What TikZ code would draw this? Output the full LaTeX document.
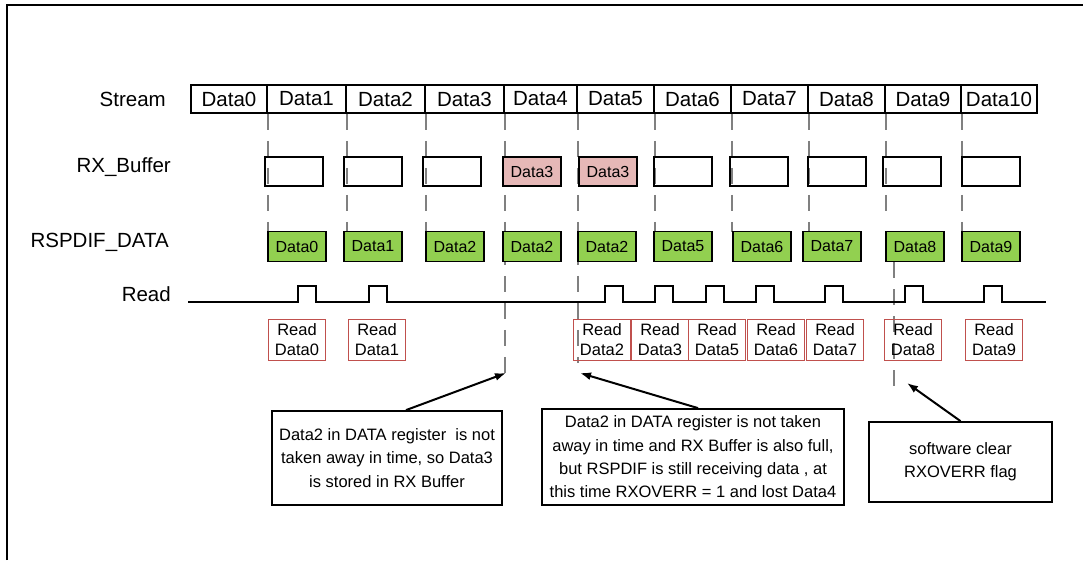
\documentclass[tikz,border=0pt]{standalone}
\usepackage{fontspec}
\setmainfont{Liberation Sans}
\definecolor{BufPink}{RGB}{230,184,183}
\definecolor{RegGreen}{RGB}{146,208,80}
\definecolor{ReadRed}{RGB}{192,80,77}
\definecolor{TickGray}{RGB}{128,128,128}
\usetikzlibrary{arrows.meta, positioning, calc}

\begin{document}
\begin{tikzpicture}[x=1pt, y=-1pt,
	cell/.style={draw, line width=1.8pt, inner sep=0pt, minimum height=28pt, font=\fontsize{20.5}{24}\selectfont},
	buf/.style={draw, line width=1.8pt, inner sep=0pt, minimum width=58pt, minimum height=29pt, font=\fontsize{16}{19}\selectfont},
	full/.style={buf, fill=BufPink},
	reg/.style={buf, fill=RegGreen, minimum height=30pt},
	rdbox/.style={draw=ReadRed, line width=1.8pt, inner sep=0pt, minimum width=57pt, minimum height=41pt, align=center, font=\fontsize{16.5}{20}\selectfont},
	note/.style={draw, line width=1.8pt, inner sep=2pt, align=center, font=\fontsize{16.5}{23.3}\selectfont},
	lbl/.style={anchor=base east, inner sep=0pt, font=\fontsize{20.5}{24}\selectfont},
	tick/.style={TickGray, line width=1.8pt, dash pattern=on 16pt off 11pt},
	callout/.style={-{Latex[length=11pt, width=8pt]}, line width=2pt}]
	\useasboundingbox (0,0) rectangle (1083,560);
	\draw[line width=2pt] (7,560) -- (7,5) -- (1083,5);

	% row labels
	\node[lbl] (lstream) at (166,106) {Stream};
	\node[lbl] (lrx) at (171,172) {RX\_Buffer};
	\node[lbl] (lrd) at (169,247) {RSPDIF\_DATA};
	\node[lbl] (lread) at (171,301) {Read};

	% stream cells
	\foreach \a/\b [count=\i from 0] in {191/267, 267/346, 346/425, 425/504, 504/577,
		577/654, 654/731, 731/808, 808/885, 885/961, 961/1037}{
		\node[cell, minimum width={\b-\a}] (s\i) at ({(\a+\b)/2},99) {Data\i};
	}

	% dashed time marks
	\foreach \i/\e in {0/232, 1/232, 2/232, 3/373, 4/363, 5/232, 6/232, 7/232, 8/217, 9/232}{
		\coordinate (t\i) at (s\i.south east |- 0,\e);
		\draw[tick] (s\i.south east) -- (t\i);
	}

	% RX buffer
	\foreach \x/\s/\t [count=\i] in {265/buf/{}, 344/buf/{}, 423/buf/{}, 503/full/Data3, 579/full/Data3,
		654/buf/{}, 730/buf/{}, 808/buf/{}, 883/buf/{}, 962/buf/{}}{
		\node[\s] (rx\i) at (\x+29,171.5) {\t};
	}

	% DATA register
	\foreach \x/\t [count=\i] in {268/Data0, 344/Data1, 426/Data2, 503/Data2, 578/Data2,
		654/Data5, 733/Data6, 803/Data7, 886/Data8, 962/Data9}{
		\node[reg] (rd\i) at (\x+29,246.5) {\t};
	}
	\coordinate (t8b) at (894,393);
	\draw[tick] (rd9.south west -| t8b) -- (t8b);

	% read strobe
	\coordinate (r0) at (188,302);
	\coordinate (r1) at (1046,302);
	\draw[line width=1.8pt] (r0) foreach \p in {298,369,605,655,706,756,825,905,984}{
		-- (\p,302) -- (\p,286) -- (\p+18,286) -- (\p+18,302)} -- (r1);

	\foreach \x/\n [count=\i] in {268/0, 348/1, 573/2, 631/3, 688/5, 747/6, 806/7, 884/8, 965/9}{
		\node[rdbox] (rr\i) at (\x+29,340) {Read\\Data\n};
	}

	% callouts
	\node[note, minimum width=230pt, minimum height=94pt] (n1) at (387,458)
		{Data2 in DATA register\ \ is not\\taken away in time, so Data3\\is stored in RX Buffer};
	\node[note, minimum width=302pt, minimum height=96pt] (n2) at (693,457)
		{Data2 in DATA register is not taken\\away in time and RX Buffer is also full,\\but RSPDIF is still receiving data , at\\this time RXOVERR = 1 and lost Data4};
	\node[note, minimum width=183pt, minimum height=80pt] (n3) at (960.5,462)
		{software clear\\RXOVERR flag};

	\coordinate (a1) at (506,373);
	\coordinate (a2) at (580,373);
	\coordinate (a3) at (907,383);
	\draw[callout] ([xshift=19pt]n1.north) -- (a1);
	\draw[callout] ([xshift=5pt]n2.north) -- (a2);
	\draw[callout] (n3.north) -- (a3);
\end{tikzpicture}
\end{document}
